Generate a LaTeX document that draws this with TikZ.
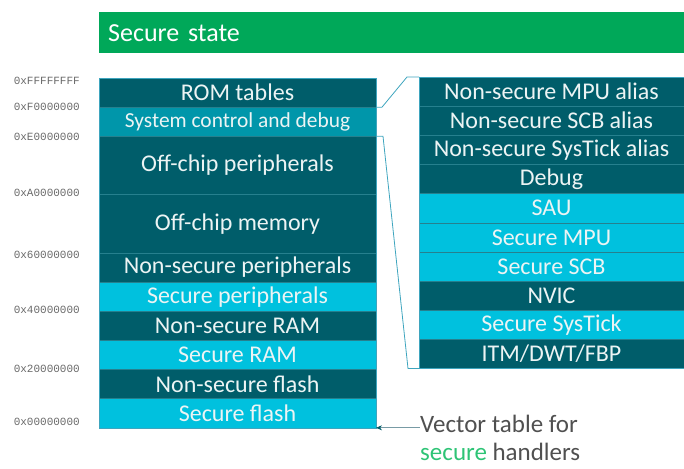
\documentclass[tikz,border=0pt]{standalone}
\usepackage{fontspec}
\setmainfont{Carlito}
\setmonofont{Liberation Mono}
\usetikzlibrary{positioning,arrows.meta}
\definecolor{darkteal}{RGB}{0,93,106}
\definecolor{midteal}{RGB}{0,150,170}
\definecolor{lightcyan}{RGB}{0,193,222}
\definecolor{bannergreen}{RGB}{0,168,89}
\definecolor{rowline}{RGB}{38,128,142}
\definecolor{linkcol}{RGB}{62,165,190}
\definecolor{rowtext}{RGB}{236,244,244}
\definecolor{notegray}{RGB}{80,80,80}
\definecolor{addrgray}{RGB}{105,105,105}
\definecolor{securegreen}{RGB}{46,196,118}
\definecolor{ptrline}{RGB}{120,155,165}

\tikzset{
  memrow/.style={rectangle,draw=rowline,line width=0.5pt,text=rowtext,
    minimum width=277pt,minimum height=29.15pt,inner sep=0pt,outer sep=0pt,
    font=\fontsize{24}{26}\selectfont},
  darkrow/.style={memrow,fill=darkteal},
  midrow/.style={memrow,fill=midteal},
  lightrow/.style={memrow,fill=lightcyan},
  tall/.style={minimum height=58.3pt},
  side/.style={minimum width=265pt},
  addr/.style={anchor=east,text=addrgray,inner sep=0pt,
    font=\ttfamily\fontsize{11}{11}\selectfont},
  banner/.style={rectangle,fill=bannergreen,text=white,anchor=north west,
    minimum width=585pt,minimum height=41pt,inner xsep=9pt,inner ysep=0pt,
    text width=567pt,align=left,font=\fontsize{26}{28}\selectfont},
  link/.style={draw=linkcol,line width=0.8pt},
  note/.style={text=notegray,align=left,inner sep=0pt,
    font=\fontsize{25}{28.5}\selectfont},
  ptr/.style={draw=ptrline,line width=0.7pt,-{Stealth[length=6pt,width=5pt,color=darkteal]}}
}

\begin{document}
\begin{tikzpicture}[x=1pt,y=-1pt]
\useasboundingbox (0,0) rectangle (684,468);
\node[banner] (state) at (99,12) {Secure state};

% memory map
\node[darkrow,anchor=north west] (rom) at (99,78) {ROM tables};
\node[midrow,font=\fontsize{21.4}{23}\selectfont,below=0pt of rom] (sysctl) {System control and debug};
\node[darkrow,tall,below=0pt of sysctl] (offper) {Off-chip peripherals};
\node[darkrow,tall,below=0pt of offper] (offmem) {Off-chip memory};
\node[darkrow,below=0pt of offmem] (nsper) {Non-secure peripherals};
\node[lightrow,below=0pt of nsper] (sper) {Secure peripherals};
\node[darkrow,below=0pt of sper] (nsram) {Non-secure RAM};
\node[lightrow,below=0pt of nsram] (sram) {Secure RAM};
\node[darkrow,below=0pt of sram] (nsflash) {Non-secure flash};
\node[lightrow,below=0pt of nsflash] (sflash) {Secure flash};
\draw[link,line width=0.5pt] (rom.north west) rectangle (sflash.south east);

% addresses
\node[addr] (aF) at (80,81) {0xFFFFFFFF};
\node[addr] (aF0) at (80,107) {0xF0000000};
\node[addr] (aE0) at (80,137) {0xE0000000};
\node[addr] (aA0) at (80,193) {0xA0000000};
\node[addr] (a60) at (80,255) {0x60000000};
\node[addr] (a40) at (80,310) {0x40000000};
\node[addr] (a20) at (80,369) {0x20000000};
\node[addr] (a00) at (80,422) {0x00000000};

% system control detail
\node[darkrow,side,anchor=north west] (nsmpu) at (419,77) {Non-secure MPU alias};
\node[darkrow,side,below=0pt of nsmpu] (nsscb) {Non-secure SCB alias};
\node[darkrow,side,below=0pt of nsscb] (nstick) {Non-secure SysTick alias};
\node[darkrow,side,below=0pt of nstick] (debug) {Debug};
\node[lightrow,side,below=0pt of debug] (sau) {SAU};
\node[lightrow,side,below=0pt of sau] (smpu) {Secure MPU};
\node[lightrow,side,below=0pt of smpu] (sscb) {Secure SCB};
\node[darkrow,side,below=0pt of sscb] (nvic) {NVIC};
\node[lightrow,side,below=0pt of nvic] (stick) {Secure SysTick};
\node[darkrow,side,below=0pt of stick] (itm) {ITM/DWT/FBP};
\draw[link] (nsmpu.north west) rectangle (itm.south east);

\draw[link] (rom.south east) -- ++(6,0) -- ([xshift=-12pt]nsmpu.north west) -- (nsmpu.north west);
\draw[link] (sysctl.south east) -- ++(7,0) -- ([xshift=-11pt]itm.south west) -- (itm.south west);

% vector table note
\node[note,anchor=west] (vec) at (420,438) {Vector table for\\\textcolor{securegreen}{secure} handlers};
\draw[ptr] (vec.west |- sflash.south east) -- (sflash.south east);
\end{tikzpicture}
\end{document}
